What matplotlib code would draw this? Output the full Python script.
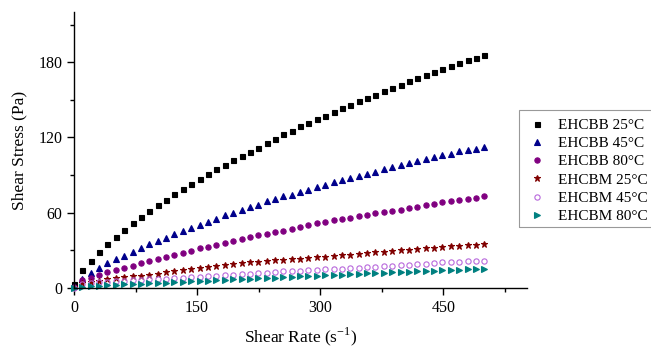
import matplotlib
matplotlib.use("Agg")
import matplotlib.pyplot as plt
from matplotlib.patches import Rectangle
from matplotlib.ticker import MultipleLocator

plt.rcParams['font.family'] = ['Liberation Serif', 'DejaVu Serif']

# shear rate grid (s^-1), 50 points from 0 to 500
shear_rate = [0.0, 10.2, 20.4, 30.6, 40.8, 51.0, 61.2, 71.4, 81.6, 91.8,
              102.0, 112.2, 122.4, 132.7, 142.9, 153.1, 163.3, 173.5, 183.7, 193.9,
              204.1, 214.3, 224.5, 234.7, 244.9, 255.1, 265.3, 275.5, 285.7, 295.9,
              306.1, 316.3, 326.5, 336.7, 346.9, 357.1, 367.3, 377.6, 387.8, 398.0,
              408.2, 418.4, 428.6, 438.8, 449.0, 459.2, 469.4, 479.6, 489.8, 500.0]

ehcbb_25 = [3.0, 14.1, 21.9, 28.8, 35.2, 40.8, 46.4, 51.5, 56.5, 61.3,
            65.9, 70.4, 74.6, 79.0, 83.2, 86.9, 90.9, 94.9, 98.4, 102.1,
            105.6, 108.8, 112.0, 115.7, 118.9, 122.4, 125.3, 128.8, 131.7, 134.7,
            137.3, 140.5, 143.2, 145.9, 148.8, 151.7, 154.1, 156.8, 159.5, 162.1,
            164.8, 167.2, 169.9, 172.0, 174.7, 177.1, 179.2, 181.6, 183.7, 185.9]

ehcbb_45 = [1.5, 7.3, 12.3, 16.3, 19.7, 22.8, 25.9, 28.6, 31.7, 34.8,
            37.5, 40.0, 43.2, 45.3, 47.7, 50.4, 52.8, 55.2, 57.9, 60.0,
            62.1, 64.8, 66.4, 69.3, 70.7, 73.0, 74.4, 76.5, 78.4, 80.5,
            82.4, 84.3, 85.9, 88.0, 89.6, 91.2, 92.8, 94.6, 96.3, 97.9,
            99.5, 101.1, 102.9, 104.3, 105.9, 107.2, 109.1, 110.4, 111.2, 112.8]

ehcbb_80 = [1.0, 6.4, 8.0, 10.1, 12.5, 14.4, 16.3, 17.9, 20.0, 21.9,
            23.2, 25.1, 26.6, 28.2, 29.8, 31.5, 33.0, 34.6, 36.1, 37.7,
            39.1, 40.6, 41.9, 43.3, 44.5, 45.7, 47.2, 48.5, 49.9, 51.5,
            52.5, 53.9, 55.2, 56.0, 57.6, 58.4, 59.5, 60.5, 61.3, 62.4,
            63.7, 64.8, 66.1, 67.2, 68.3, 69.1, 70.1, 71.2, 71.7, 73.0]

ehcbm_25 = [0.5, 3.6, 4.8, 5.9, 6.9, 7.7, 8.5, 9.2, 9.9, 10.7,
            11.5, 12.4, 13.3, 14.4, 15.2, 16.0, 16.7, 17.5, 18.3, 19.0,
            19.7, 20.5, 21.1, 21.6, 22.2, 22.4, 22.9, 23.5, 24.0, 24.5,
            25.1, 25.6, 26.1, 26.7, 27.2, 27.7, 28.5, 28.8, 29.3, 29.9,
            30.4, 30.9, 31.5, 32.0, 32.5, 33.1, 33.3, 33.9, 34.4, 34.9]

ehcbm_45 = [0.3, 3.0, 4.0, 4.6, 5.1, 5.5, 5.9, 6.3, 6.6, 6.9,
            7.2, 7.5, 7.8, 8.1, 8.4, 8.8, 9.2, 9.6, 10.2, 10.7,
            11.1, 11.5, 11.8, 12.1, 12.6, 13.2, 13.4, 13.7, 14.0, 14.3,
            14.8, 15.0, 15.3, 15.6, 16.0, 16.4, 16.8, 17.3, 17.6, 18.2,
            18.5, 19.2, 19.5, 20.2, 20.5, 20.6, 20.8, 21.2, 21.3, 21.6]

ehcbm_80 = [0.2, 0.9, 1.4, 1.8, 2.2, 2.5, 2.8, 3.1, 3.4, 3.7,
            4.0, 4.3, 4.6, 4.9, 5.2, 5.6, 5.9, 6.2, 6.5, 6.8,
            7.1, 7.4, 7.7, 8.0, 8.3, 8.6, 8.9, 9.2, 9.5, 9.8,
            10.1, 10.4, 10.7, 11.0, 11.3, 11.6, 11.9, 12.2, 12.5, 12.8,
            13.0, 13.3, 13.5, 13.8, 14.0, 14.3, 14.5, 14.8, 15.0, 15.2]

labels = ['EHCBB 25°C', 'EHCBB 45°C', 'EHCBB 80°C',
          'EHCBM 25°C', 'EHCBM 45°C', 'EHCBM 80°C']
series = [ehcbb_25, ehcbb_45, ehcbb_80, ehcbm_25, ehcbm_45, ehcbm_80]
colors = ['black', '#00008B', '#800080', '#800000', '#B868DC', '#008080']
markers = ['s', '^', 'o', '*', 'o', '>']
sizes = [3.6, 4.0, 3.8, 4.6, 3.8, 4.0]

fig = plt.figure(figsize=(6.51, 3.48), dpi=100)
ax = fig.add_axes([0.1137, 0.1724, 0.6958, 0.793])

for ys, lab, c, m, s in zip(series, labels, colors, markers, sizes):
    face = 'none' if lab == 'EHCBM 45°C' else c
    ax.plot(shear_rate, ys, linestyle='none', marker=m, markersize=s,
            markerfacecolor=face, markeredgecolor=c, markeredgewidth=0.8,
            label=lab, clip_on=False)

ax.set_xlim(0, 552)
ax.set_ylim(0, 220)
ax.xaxis.set_major_locator(MultipleLocator(150))
ax.xaxis.set_minor_locator(MultipleLocator(75))
ax.yaxis.set_major_locator(MultipleLocator(60))
ax.yaxis.set_minor_locator(MultipleLocator(30))
ax.spines['top'].set_visible(False)
ax.spines['right'].set_visible(False)
for sp in ('left', 'bottom'):
    ax.spines[sp].set_linewidth(1.0)
ax.tick_params(which='major', direction='out', length=5, width=1.0, labelsize=11.5)
ax.tick_params(which='minor', direction='out', length=3, width=1.0)

ax.set_xlabel('Shear Rate (s$^{\\mathregular{-1}}$)', fontsize=12.5, labelpad=7)
ax.set_ylabel('Shear Stress (Pa)', fontsize=12.5, labelpad=8)

# legend box runs off the right edge in the original
fig.legend(loc='upper left', bbox_to_anchor=(0.8034, 0.678), fontsize=11,
           frameon=False, borderpad=0.4, labelspacing=0.3,
           handlelength=1.0, handletextpad=0.9, borderaxespad=0)
fig.add_artist(Rectangle((519 / 651, 1 - 227 / 348), 0.3, 117 / 348,
                         transform=fig.transFigure, fill=False,
                         edgecolor='#999999', linewidth=0.8))

fig.savefig('out.png', dpi=100)
